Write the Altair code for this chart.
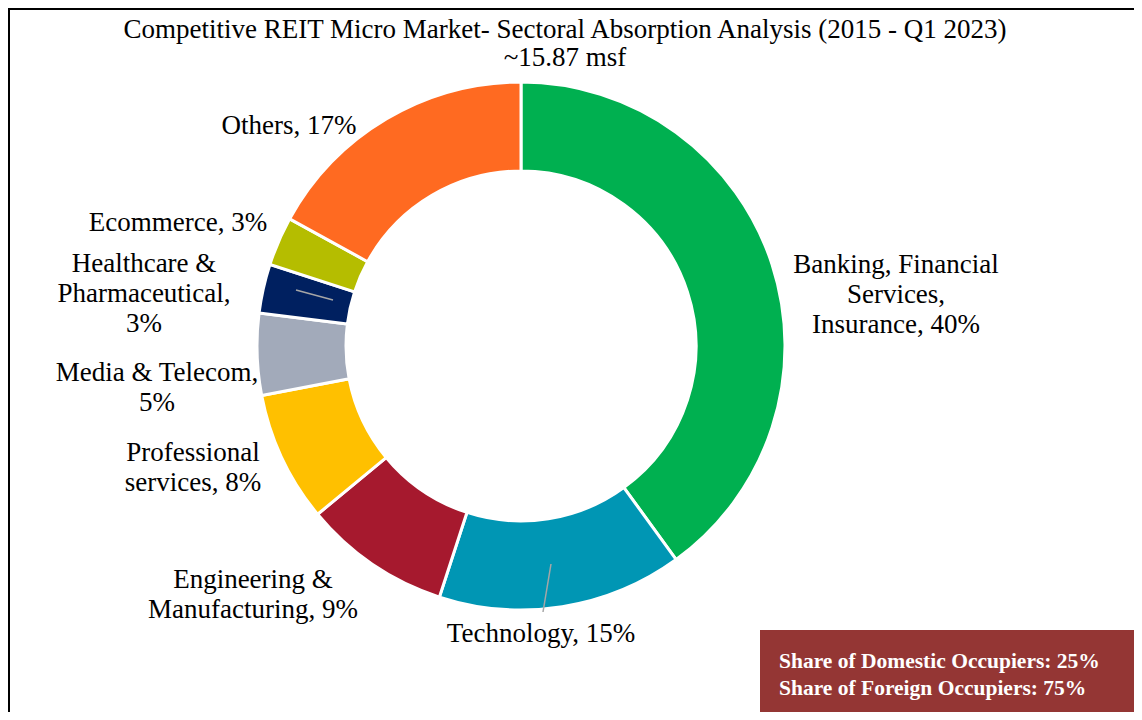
import altair as alt
import pandas as pd

# ---- data ----
sectors = ["Banking, Financial Services, Insurance", "Technology", "Engineering & Manufacturing",
           "Professional services", "Media & Telecom", "Healthcare & Pharmaceutical",
           "Ecommerce", "Others"]
shares = [40, 15, 9, 8, 5, 3, 3, 17]
colors = ["#00B050", "#0096B4", "#A6192E", "#FFC000", "#A2AABA", "#002060", "#B5BD00", "#FF6A21"]
label_texts = ["Banking, Financial\nServices,\nInsurance, 40%", "Technology, 15%",
               "Engineering &\nManufacturing, 9%", "Professional\nservices, 8%",
               "Media & Telecom,\n5%", "Healthcare &\nPharmaceutical,\n3%",
               "Ecommerce, 3%", "Others, 17%"]
title_lines = ["Competitive REIT Micro Market- Sectoral Absorption Analysis (2015 - Q1 2023)", "~15.87 msf"]
box_lines = ["Share of Domestic Occupiers: 25%", "Share of Foreign Occupiers: 75%"]

# ---- layout (pixels, chart coordinates; y = centre of first line) ----
W, H = 1126, 704
CX, CY = 513, 338
label_x = [888, 533, 245, 185, 149, 136, 170, 281]
label_y = [257, 626, 572, 445, 365, 256, 215, 118]

df = pd.DataFrame({"sector": sectors, "share": shares, "order": list(range(len(sectors)))})
lab = pd.DataFrame({"text": label_texts, "lx": label_x, "ly": label_y})

FONT = "Liberation Serif"

donut = alt.Chart(df).mark_arc(innerRadius=175, outerRadius=264, stroke="white", strokeWidth=3).encode(
    theta=alt.Theta("share:Q", stack=True),
    color=alt.Color("sector:N", scale=alt.Scale(domain=sectors, range=colors), legend=None),
    order=alt.Order("order:Q"),
    x=alt.value(CX), y=alt.value(CY),
)

labels = alt.Chart(lab).mark_text(font=FONT, fontSize=27, color="#000000", lineBreak="\n",
                                  lineHeight=30, align="center", baseline="middle").encode(
    x=alt.X("lx:Q", scale=None), y=alt.Y("ly:Q", scale=None), text="text:N")

leaders = pd.DataFrame({"x": [288, 535], "y": [282, 604], "x2": [325, 543], "y2": [292, 556]})
leader = alt.Chart(leaders).mark_rule(color="#A6A6A6", strokeWidth=1.5).encode(
    x=alt.X("x:Q", scale=None), y=alt.Y("y:Q", scale=None),
    x2="x2:Q", y2="y2:Q")

title = alt.Chart(pd.DataFrame({"t": title_lines, "y": [22, 50]})).mark_text(
    font=FONT, fontSize=27, color="#000000", align="center", baseline="middle").encode(
    x=alt.value(557), y=alt.Y("y:Q", scale=None), text="t:N")

box = alt.Chart(pd.DataFrame({"a": [0]})).mark_rect(color="#943634").encode(
    x=alt.value(752), x2=alt.value(W + 10), y=alt.value(622), y2=alt.value(H + 10))

box_text = alt.Chart(pd.DataFrame({"t": box_lines, "y": [654, 681]})).mark_text(
    font=FONT, fontSize=21.5, fontWeight="bold", color="#FFFFFF", align="left", baseline="middle").encode(
    x=alt.value(771), y=alt.Y("y:Q", scale=None), text="t:N")

frame_left = alt.Chart(pd.DataFrame({"a": [0]})).mark_rule(color="#000000", strokeWidth=2).encode(
    x=alt.value(1), y=alt.value(0), y2=alt.value(H))
frame_top = alt.Chart(pd.DataFrame({"a": [0]})).mark_rule(color="#000000", strokeWidth=2).encode(
    x=alt.value(0), x2=alt.value(W), y=alt.value(1))

chart = alt.layer(donut, leader, labels, title, box, box_text, frame_left, frame_top).properties(
    width=W, height=H, padding=0, autosize=alt.AutoSizeParams(type="none")
).configure_view(stroke=None).configure(background="white")

chart.save("out.html", embed_options={"renderer": "svg", "actions": False})
